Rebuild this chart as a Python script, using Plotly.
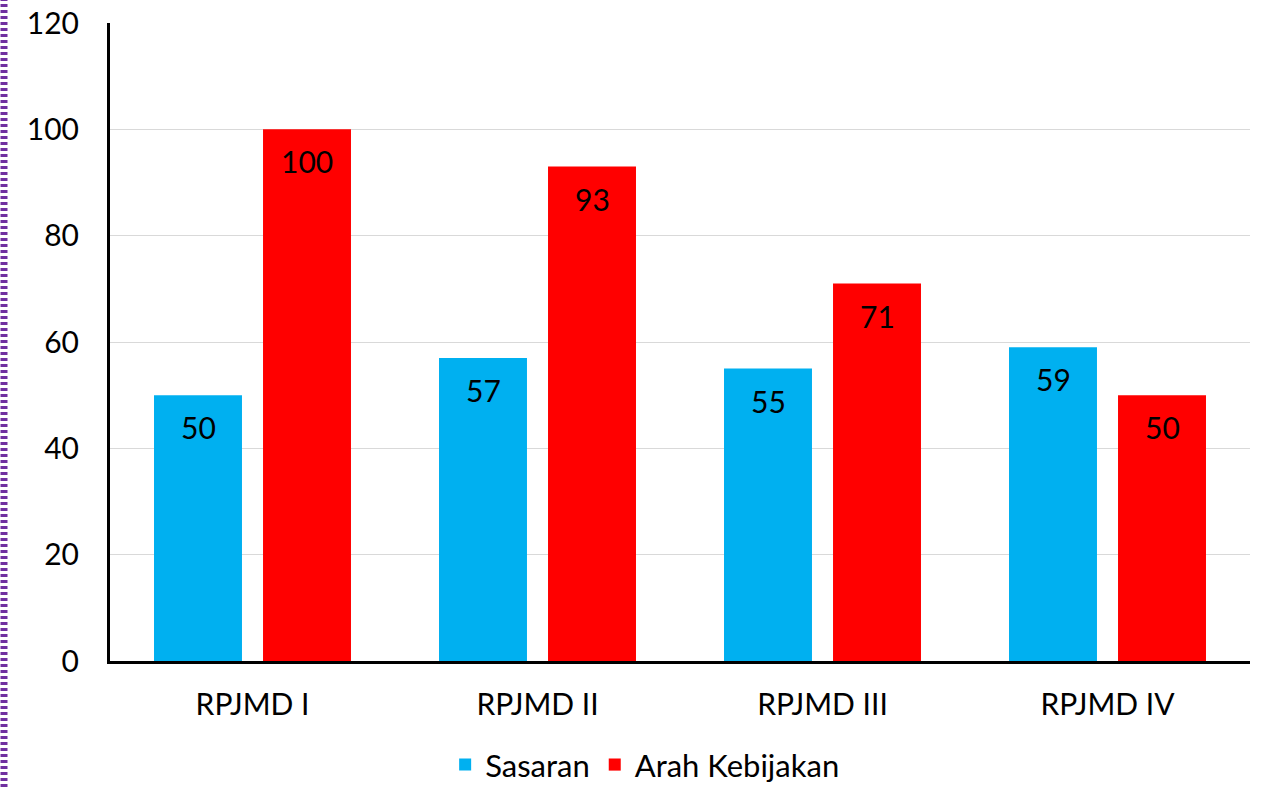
import plotly.graph_objects as go

categories = ["RPJMD I", "RPJMD II", "RPJMD III", "RPJMD IV"]
sasaran = [50, 57, 55, 59]
arah_kebijakan = [100, 93, 71, 50]
series_names = ["Sasaran", "Arah Kebijakan"]
colors = ["#00B0F0", "#FF0000"]
y_ticks = [0, 20, 40, 60, 80, 100, 120]

FONT = "Lato"
FS = 30
W, H = 1265, 787
ML, MR, MT, MB = 110, 15, 23, 126
PW, PH = W - ML - MR, H - MT - MB

fig = go.Figure()
for name, vals, col in zip(series_names, [sasaran, arah_kebijakan], colors):
    fig.add_trace(go.Bar(
        x=categories, y=vals, name=name, marker_color=col,
        marker_line_width=0,
    ))

annotations = []
for vals, shift in [(sasaran, -54.5), (arah_kebijakan, 54.5)]:
    for c, v in zip(categories, vals):
        annotations.append(dict(
            x=c, y=v, xref="x", yref="y", text=str(v), showarrow=False,
            xshift=shift, yshift=-32, yanchor="middle", xanchor="center",
            font=dict(family=FONT, size=FS, color="#000000"),
        ))

# purple dotted border at left edge
bx = (4 - ML) / PW
fig.add_shape(type="line", xref="paper", yref="paper",
              x0=bx, x1=bx, y0=-MB / PH, y1=(PH + MT) / PH,
              line=dict(color="#7030A0", width=7, dash="3px,3px"))

fig.update_layout(
    width=W, height=H,
    margin=dict(l=ML, r=MR, t=MT, b=MB, autoexpand=False),
    paper_bgcolor="white", plot_bgcolor="white",
    barmode="group", bargap=0.235, bargroupgap=0.193,
    font=dict(family=FONT, size=FS, color="#000000"),
    showlegend=True,
    legend=dict(orientation="h", xref="container", yref="container",
                x=0.51, xanchor="center", y=0.028, yanchor="middle",
                font=dict(family=FONT, size=31), traceorder="normal"),
    annotations=annotations,
    xaxis=dict(showline=True, linecolor="#000000", linewidth=3,
               showgrid=False, ticks="", tickfont=dict(size=FS),
               ticklabelstandoff=15, automargin=False),
    yaxis=dict(range=[0, 120], tickvals=y_ticks, showline=True,
               linecolor="#000000", linewidth=3, showgrid=True,
               gridcolor="#D9D9D9", gridwidth=1, ticks="",
               tickfont=dict(size=FS), ticklabelstandoff=22, zeroline=False,
               automargin=False),
)

fig.write_html("out.html")
